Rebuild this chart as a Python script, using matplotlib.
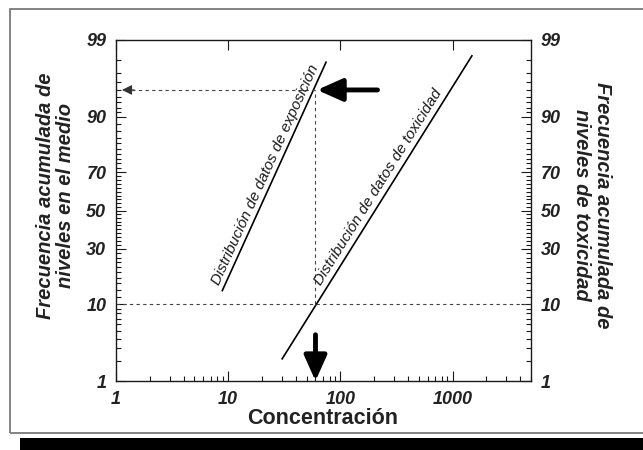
import math
import numpy as np
import matplotlib
matplotlib.use("Agg")
import matplotlib.pyplot as plt
from matplotlib.patches import Rectangle

# ---------------- data ----------------
x_ticks = [1, 10, 100, 1000]
x_ticklabels = ["1", "10", "100", "1000"]
y_ticks = [1, 10, 30, 50, 70, 90, 99]
y_ticklabels = ["1", "10", "30", "50", "70", "90", "99"]

exp_x = [8.8, 75]          # Distribución de datos de exposición
exp_y = [13.5, 97.9]
tox_x = [30, 1500]         # Distribución de datos de toxicidad
tox_y = [2.1, 98.3]

conc_ref = 60              # concentration of reference (vertical dashed)
pct_low = 10               # 10 % toxicity level
pct_high = 95              # exposure percentile reached

label_exp = "Distribución de datos de exposición"
label_tox = "Distribución de datos de toxicidad"
xlabel = "Concentración"
ylabel_left = "Frecuencia acumulada de\nniveles en el medio"
ylabel_right = "Frecuencia acumulada de\nniveles de toxicidad"

# ---------------- probit scale ----------------
_a = [-3.969683028665376e+01, 2.209460984245205e+02, -2.759285104469687e+02,
      1.383577518672690e+02, -3.066479806614716e+01, 2.506628277459239e+00]
_b = [-5.447609879822406e+01, 1.615858368580409e+02, -1.556989798598866e+02,
      6.680131188771972e+01, -1.328068155288572e+01]
_c = [-7.784894002430293e-03, -3.223964580411365e-01, -2.400758277161838e+00,
      -2.549732539343734e+00, 4.374664141464968e+00, 2.938163982698783e+00]
_d = [7.784695709041462e-03, 3.224671290700398e-01, 2.445134137142996e+00,
      3.754408661907416e+00]


def _ppf(p):
    p = np.clip(np.asarray(p, dtype=float), 1e-12, 1 - 1e-12)
    plow = 0.02425
    q = p - 0.5
    r = q * q
    central = (((((_a[0]*r+_a[1])*r+_a[2])*r+_a[3])*r+_a[4])*r+_a[5])*q / \
              (((((_b[0]*r+_b[1])*r+_b[2])*r+_b[3])*r+_b[4])*r+1)
    ql = np.sqrt(-2*np.log(p))
    low = (((((_c[0]*ql+_c[1])*ql+_c[2])*ql+_c[3])*ql+_c[4])*ql+_c[5]) / \
          ((((_d[0]*ql+_d[1])*ql+_d[2])*ql+_d[3])*ql+1)
    qu = np.sqrt(-2*np.log(1-p))
    up = -(((((_c[0]*qu+_c[1])*qu+_c[2])*qu+_c[3])*qu+_c[4])*qu+_c[5]) / \
         ((((_d[0]*qu+_d[1])*qu+_d[2])*qu+_d[3])*qu+1)
    return np.where(p < plow, low, np.where(p > 1 - plow, up, central))


_erf = np.vectorize(math.erf)


def fwd(v):
    return _ppf(np.asarray(v, dtype=float) / 100.0)


def inv(z):
    z = np.asarray(z, dtype=float)
    return 100.0 * 0.5 * (1 + _erf(z / math.sqrt(2)))


# ---------------- figure ----------------
W, H = 643, 450
fig = plt.figure(figsize=(W/100, H/100), dpi=100)
fig.patch.set_facecolor("white")

# frame and shadow
fig.patches.append(Rectangle((10/W, 1-433/H), (660-10)/W, (433-9)/H,
                             transform=fig.transFigure, fill=False,
                             edgecolor="#7a7a7a", lw=1.3, zorder=0))
fig.patches.append(Rectangle((20/W, 0), 1, (450-438)/H,
                             transform=fig.transFigure, facecolor="black",
                             edgecolor="none", zorder=0))

ax = fig.add_axes([116/W, 1-381/H, (531-116)/W, (381-40)/H])
ax.set_xscale("log")
ax.set_yscale("function", functions=(fwd, inv))
ax.set_xlim(1, 5000)
ax.set_ylim(1, 99)

FONT = "Liberation Sans"
ink = "#1a1a1a"
tick_font = dict(fontsize=13, style="italic", weight="bold", family=FONT, color="#222222")

ax.set_xticks(x_ticks)
ax.set_xticklabels(x_ticklabels, **tick_font)
ax.xaxis.set_minor_locator(matplotlib.ticker.LogLocator(base=10, subs=np.arange(2, 10)))
ax.xaxis.set_minor_formatter(matplotlib.ticker.NullFormatter())

ax.set_yticks(y_ticks)
ax.set_yticklabels(y_ticklabels, **tick_font)
minor_y = list(range(2, 10)) + list(range(12, 90, 2)) + list(range(91, 99))
ax.set_yticks(minor_y, minor=True)
ax.yaxis.set_minor_formatter(matplotlib.ticker.NullFormatter())

ax.tick_params(axis="both", which="both", direction="in", color=ink, width=0.8)
ax.tick_params(axis="both", which="major", length=7)
ax.tick_params(axis="both", which="minor", length=3.5)
ax.tick_params(axis="y", which="both", left=True, right=True, labelleft=True, labelright=True, pad=7)
ax.tick_params(axis="x", which="major", top=True, bottom=True, pad=7)
ax.tick_params(axis="x", which="minor", top=False, bottom=True)
for s in ax.spines.values():
    s.set_linewidth(1.0)
    s.set_color(ink)

# distribution lines
ax.plot(exp_x, exp_y, color="black", lw=1.2, solid_capstyle="butt")
ax.plot(tox_x, tox_y, color="black", lw=1.2, solid_capstyle="butt")

# dashed guides
dash = dict(color="#444444", lw=0.8, linestyle=(0, (3, 3)))
ax.plot([1, 5000], [pct_low, pct_low], **dash)
ax.plot([conc_ref, conc_ref], [pct_low, pct_high], **dash)
ax.plot([1.2, conc_ref], [pct_high, pct_high], **dash)
ax.annotate("", xy=(1.13, pct_high), xytext=(1.45, pct_high),
            arrowprops=dict(arrowstyle="-|>,head_length=0.5,head_width=0.25",
                            color="#333333", lw=0.8, mutation_scale=12,
                            shrinkA=0, shrinkB=0))

# thick arrows
ax.annotate("", xy=(62, pct_high), xytext=(214, pct_high),
            arrowprops=dict(arrowstyle="-|>,head_length=0.85,head_width=0.38",
                            color="black", lw=3.5, mutation_scale=18,
                            shrinkA=0, shrinkB=0))
ax.annotate("", xy=(conc_ref, 1.0), xytext=(conc_ref, 4.5),
            arrowprops=dict(arrowstyle="-|>,head_length=0.85,head_width=0.38",
                            color="black", lw=3.5, mutation_scale=18,
                            shrinkA=0, shrinkB=0))


def _angle(xs, ys):
    p = ax.transData.transform(np.column_stack([xs, ys]))
    return math.degrees(math.atan2(p[1, 1]-p[0, 1], p[1, 0]-p[0, 0]))


ax.text(21.2, 68.6, label_exp, rotation=_angle(exp_x, exp_y), rotation_mode="anchor",
        ha="center", va="center", fontsize=11, style="italic", family=FONT, color=ink)
ax.text(218, 62.4, label_tox, rotation=_angle(tox_x, tox_y), rotation_mode="anchor",
        ha="center", va="center", fontsize=11, style="italic", family=FONT, color=ink)

# axis labels
fig.text(323/W, 1-418/H, xlabel, ha="center", va="center", fontsize=15.5,
         weight="bold", family=FONT, color="#222222")
fig.text(55.5/W, 1-196/H, ylabel_left, rotation=90, ha="center", va="center",
         multialignment="center", fontsize=14.5, weight="bold", style="italic",
         family=FONT, color="#222222", linespacing=1.1)
fig.text(592/W, 1-205/H, ylabel_right, rotation=-90, ha="center", va="center",
         multialignment="center", fontsize=14.5, weight="bold", style="italic",
         family=FONT, color="#222222", linespacing=1.1)

fig.savefig("out.png", dpi=100)
